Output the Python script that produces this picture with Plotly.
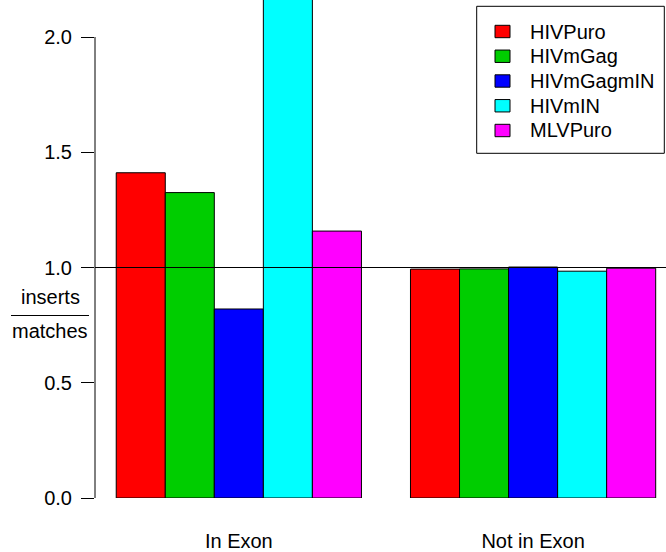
import plotly.graph_objects as go

# ---- data ----
categories = ["In Exon", "Not in Exon"]
series_names = ["HIVPuro", "HIVmGag", "HIVmGagmIN", "HIVmIN", "MLVPuro"]
series_colors = ["#FF0000", "#00CD00", "#0000FF", "#00FFFF", "#FF00FF"]
hivpuro = [1.411, 0.993]
hivmgag = [1.325, 0.994]
hivmgagmin = [0.820, 1.002]
hivmin = [2.30, 0.984]
mlvpuro = [1.158, 0.997]
series_values = [hivpuro, hivmgag, hivmgagmin, hivmin, mlvpuro]
ytick_vals = [0.0, 0.5, 1.0, 1.5, 2.0]
ytick_text = ["0.0", "0.5", "1.0", "1.5", "2.0"]

W, H = 666, 552
ML, MR, MT, MB = 95, 0, 0, 54
PW = W - ML - MR
PH = H - MT - MB
FONT = "Liberation Sans, Arial, Helvetica, sans-serif"


def px_x(px):
    return (px - ML) / PW


def px_y(py):
    return 1 - (py - MT) / PH


fig = go.Figure()
for name, col, vals in zip(series_names, series_colors, series_values):
    fig.add_trace(go.Bar(
        x=categories, y=vals, name=name,
        marker=dict(color=col, line=dict(color="black", width=1)),
    ))

fig.update_layout(
    width=W, height=H,
    margin=dict(l=ML, r=MR, t=MT, b=MB, pad=0),
    paper_bgcolor="white", plot_bgcolor="white",
    barmode="group", bargap=1 / 6, bargroupgap=0,
    font=dict(family=FONT, size=20, color="black"),
    showlegend=False,
    xaxis=dict(
        range=[-0.4888, 1.4517], showgrid=False, zeroline=False,
        showline=False, ticks="", ticklabelstandoff=29,
        tickfont=dict(family=FONT, size=20, color="black"),
    ),
    yaxis=dict(
        range=[0, PH / 230.5], showgrid=False, zeroline=False, showline=False,
        tickmode="array", tickvals=ytick_vals, ticktext=ytick_text,
        ticks="outside", ticklen=13, tickwidth=1, tickcolor="black",
        ticklabelstandoff=5,
        tickfont=dict(family=FONT, size=20, color="black"),
    ),
)

# R-style axis line spanning only the tick range
fig.add_shape(type="line", xref="paper", yref="y", x0=0, x1=0,
              y0=ytick_vals[0], y1=ytick_vals[-1],
              line=dict(color="black", width=1))
# reference line at 1.0 drawn over the bars
fig.add_shape(type="line", xref="paper", yref="y", x0=0, x1=1, y0=1, y1=1,
              line=dict(color="black", width=1), layer="above")

# y-axis label as a fraction
fig.add_annotation(text="inserts", xref="paper", yref="paper",
                   x=px_x(50), y=px_y(297), showarrow=False,
                   xanchor="center", yanchor="middle",
                   font=dict(family=FONT, size=20, color="black"))
fig.add_annotation(text="matches", xref="paper", yref="paper",
                   x=px_x(50), y=px_y(331), showarrow=False,
                   xanchor="center", yanchor="middle",
                   font=dict(family=FONT, size=20, color="black"))
fig.add_shape(type="line", xref="paper", yref="paper",
              x0=px_x(11), x1=px_x(89), y0=px_y(315.5), y1=px_y(315.5),
              line=dict(color="black", width=1))

# legend box (R-style, top right)
fig.add_shape(type="rect", xref="paper", yref="paper",
              x0=px_x(476.7), x1=px_x(664.3), y0=px_y(6.3), y1=px_y(153.3),
              line=dict(color="black", width=1), fillcolor="white",
              layer="above")
row0, row_step = 31.5, 24.75
for i, (name, col) in enumerate(zip(series_names, series_colors)):
    cy = row0 + i * row_step
    fig.add_shape(type="rect", xref="paper", yref="paper",
                  x0=px_x(495), x1=px_x(510),
                  y0=px_y(cy - 6.2), y1=px_y(cy + 6.2),
                  line=dict(color="black", width=1), fillcolor=col,
                  layer="above")
    fig.add_annotation(text=name, xref="paper", yref="paper",
                       x=px_x(528), y=px_y(cy), showarrow=False,
                       xanchor="left", yanchor="middle",
                       font=dict(family=FONT, size=20, color="black"))

fig.write_html("out.html")
